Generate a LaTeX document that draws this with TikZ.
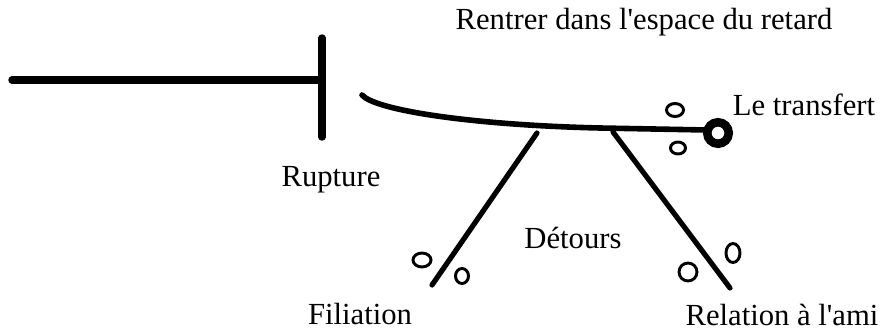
\documentclass[tikz,border=0pt]{standalone}
\usepackage{fontspec}
\setmainfont{Liberation Serif}
\usetikzlibrary{positioning}

\begin{document}
\begin{tikzpicture}[
  x=0.75pt,y=-0.75pt,
  font=\fontsize{23}{27}\selectfont,
  lab/.style={inner sep=0pt,anchor=center},
  bar/.style={line width=5.6pt,line cap=round},
  stroke/.style={line width=4.2pt,line cap=round},
  leg/.style={line width=3.9pt,line cap=round},
  dot/.style={line width=2.2pt}
]
\useasboundingbox (0,0) rectangle (883,332);
% labels
\node[lab] (titre) at (644,22) {Rentrer dans l\textquotesingle espace du retard};
\node[lab] (rupture) at (331,180) {Rupture};
\node[lab] (transfert) at (804,105) {Le transfert};
\node[lab] (detours) at (573,238) {Détours};
\node[lab] (filiation) at (360,314) {Filiation};
\node[lab] (ami) at (782,315) {Relation à l\textquotesingle ami};
% rupture
\coordinate (debut) at (12,80);
\coordinate (mur) at (322,80);
\draw[bar] (debut) -- (mur);
\draw[bar] (322,38) -- (322,137);
% espace du retard
\coordinate (depart) at (362,95);
\coordinate (arrivee) at (707,130);
\draw[stroke] (depart) .. controls (375,110) and (470,125) .. (600,128) -- (arrivee);
\draw[line width=6.4pt] (718,133) circle (10.75);
\draw[dot] (675,110) ellipse (8.5 and 6.5);
\draw[dot] (678,148) ellipse (7.5 and 6);
% detours
\coordinate (g1) at (537,133);
\coordinate (g2) at (432,285);
\coordinate (d1) at (613,132);
\coordinate (d2) at (730,288);
\draw[leg] (g1) -- (g2);
\draw[leg] (d1) -- (d2);
\draw[dot] (422,260) ellipse (9 and 7);
\draw[dot] (462,276) ellipse (6.5 and 7.5);
\draw[dot] (688,272) ellipse (9 and 9);
\draw[dot] (733,253) ellipse (7 and 9.5);
\end{tikzpicture}
\end{document}
